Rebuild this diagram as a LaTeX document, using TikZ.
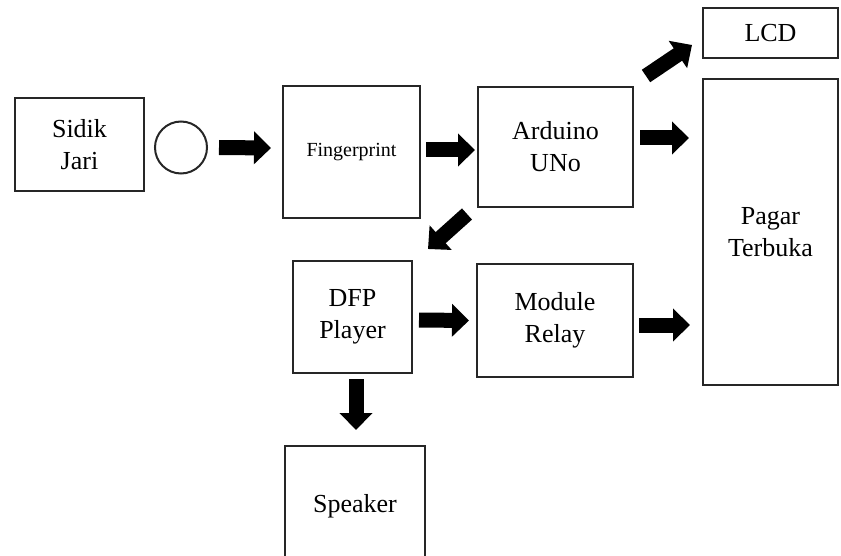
\documentclass[tikz,border=0pt]{standalone}
\usepackage{fontspec}
\setmainfont{Liberation Serif}
\usetikzlibrary{arrows.meta,calc}

\begin{document}
\begin{tikzpicture}[x=1pt, y=-1pt,
    box/.style={draw=black!85, line width=2pt, inner sep=0pt, align=center, font=\fontsize{26}{32}\selectfont},
    blk/.style={line width=15pt, -{Triangle[length=17pt,width=32pt]}}]
    \useasboundingbox (0,0) rectangle (841,556);

    % Blocks
    \node [box, minimum width=129pt, minimum height=93pt] (sidik) at (79.5,144.5) {Sidik\\Jari};
    \node [draw=black!85, circle, line width=2pt, minimum size=52pt, inner sep=0pt] (sensor) at (181,147.5) {};
    \node [box, minimum width=137pt, minimum height=132pt, font=\fontsize{20}{24}\selectfont] (fp) at (351.5,152) {Fingerprint};
    \node [box, minimum width=155pt, minimum height=120pt] (ard) at (555.5,147) {Arduino\\UNo};
    \node [box, minimum width=135pt, minimum height=50pt] (lcd) at (770.5,33) {LCD};
    \node [box, minimum width=135pt, minimum height=306pt] (pagar) at (770.5,232) {Pagar\\Terbuka};
    \node [box, minimum width=119pt, minimum height=112pt] (dfp) at (352.5,317) {DFP\\Player};
    \node [box, minimum width=156pt, minimum height=113pt] (relay) at (555,320.5) {Module\\Relay};
    \node [box, minimum width=140pt, minimum height=120pt] (spk) at (355,506) {Speaker};

    % Arrows
    \draw [blk] ($(sensor.east)+(11,0)$) -- ($(fp.west)+(-11,-4)$);
    \draw [blk] ($(fp.east)+(5,-2)$) -- ($(ard.west)+(-2,3)$);
    \draw [blk] ($(ard.east)+(6,-9)$) -- ($(pagar.west)+(-13,-94)$);
    \draw [blk] ($(ard.north east)+(12,-10)$) -- ($(lcd.west)+(-10,12)$);
    \draw [blk] ($(ard.south west)+(-10,6)$) -- ($(dfp.north east)+(15,-11)$);
    \draw [blk] ($(dfp.east)+(6,3)$) -- ($(relay.west)+(-7,0)$);
    \draw [blk] ($(relay.east)+(5,4.5)$) -- ($(pagar.west)+(-12,93)$);
    \draw [blk] ($(dfp.south)+(3.5,5)$) -- ($(spk.north)+(1,-15)$);
\end{tikzpicture}
\end{document}
